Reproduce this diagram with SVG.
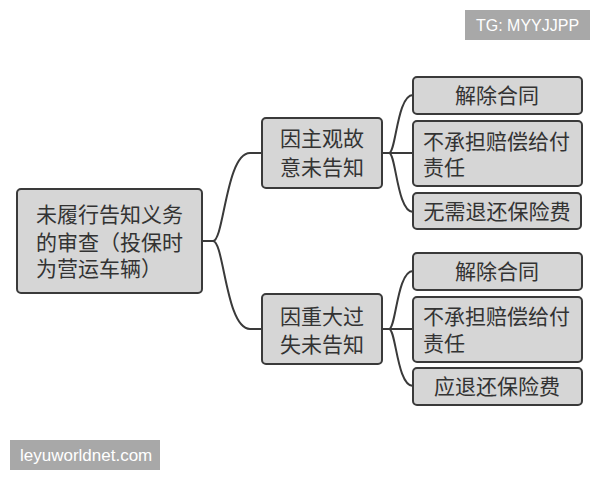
<svg xmlns="http://www.w3.org/2000/svg" width="600" height="480" viewBox="0 0 600 480">
<style>
.box{fill:#d6d6d6;stroke:#3a3a3a;stroke-width:2}
.t{font-family:"Noto Sans CJK SC","Noto Sans",sans-serif;font-size:21px;fill:#333}
.c{text-anchor:middle}
.ln{fill:none;stroke:#3a3a3a;stroke-width:2}
.wm{fill:#a8a8a8}
.wt{font-family:"Liberation Sans","Noto Sans",sans-serif;fill:#fff}
</style>
<rect width="600" height="480" fill="#fff"/>
<g id="connectors">
<path class="ln" d="M202,241 H213 C224,241 226,153 250,153 H262"/>
<path class="ln" d="M213,241 C224,241 226,329 250,329 H262"/>
<path class="ln" d="M382,153 H389 C396,153 397,95 413,95"/>
<path class="ln" d="M389,153 H413"/>
<path class="ln" d="M389,153 C396,153 397,212 413,212"/>
<path class="ln" d="M382,329 H389 C396,329 397,271 413,271"/>
<path class="ln" d="M389,329 H413"/>
<path class="ln" d="M389,329 C396,329 397,386 413,386"/>
</g>
<g id="root">
<rect class="box" x="17" y="189" width="185" height="104" rx="4"/>
<text class="t" x="36" y="222">未履行告知义务</text>
<text class="t" x="36" y="250">的审查（投保时</text>
<text class="t" x="36" y="276">为营运车辆）</text>
</g>
<g id="n1">
<rect class="box" x="262" y="118" width="120" height="70" rx="4"/>
<text class="t c" x="322" y="146">因主观故</text>
<text class="t c" x="322" y="175">意未告知</text>
</g>
<g id="n1a">
<rect class="box" x="413" y="77" width="169" height="37" rx="4"/>
<text class="t c" x="497" y="103">解除合同</text>
</g>
<g id="n1b">
<rect class="box" x="413" y="121" width="169" height="65" rx="4"/>
<text class="t" x="423" y="149">不承担赔偿给付</text>
<text class="t" x="423" y="175">责任</text>
</g>
<g id="n1c">
<rect class="box" x="413" y="193" width="168" height="36" rx="4"/>
<text class="t c" x="497" y="219">无需退还保险费</text>
</g>
<g id="n2">
<rect class="box" x="262" y="294" width="120" height="70" rx="4"/>
<text class="t c" x="322" y="324">因重大过</text>
<text class="t c" x="322" y="352">失未告知</text>
</g>
<g id="n2a">
<rect class="box" x="413" y="253" width="169" height="37" rx="4"/>
<text class="t c" x="497" y="279">解除合同</text>
</g>
<g id="n2b">
<rect class="box" x="413" y="297" width="169" height="65" rx="4"/>
<text class="t" x="423" y="324">不承担赔偿给付</text>
<text class="t" x="423" y="351">责任</text>
</g>
<g id="n2c">
<rect class="box" x="413" y="368" width="169" height="37" rx="4"/>
<text class="t c" x="497" y="394">应退还保险费</text>
</g>
<g id="wm1">
<rect class="wm" x="465" y="10" width="125" height="30"/>
<text class="wt" x="527.5" y="31" font-size="16" text-anchor="middle">TG: MYYJJPP</text>
</g>
<g id="wm2">
<rect class="wm" x="10" y="440" width="150" height="30"/>
<text class="wt" x="20" y="461" font-size="17">leyuworldnet.com</text>
</g>
</svg>
